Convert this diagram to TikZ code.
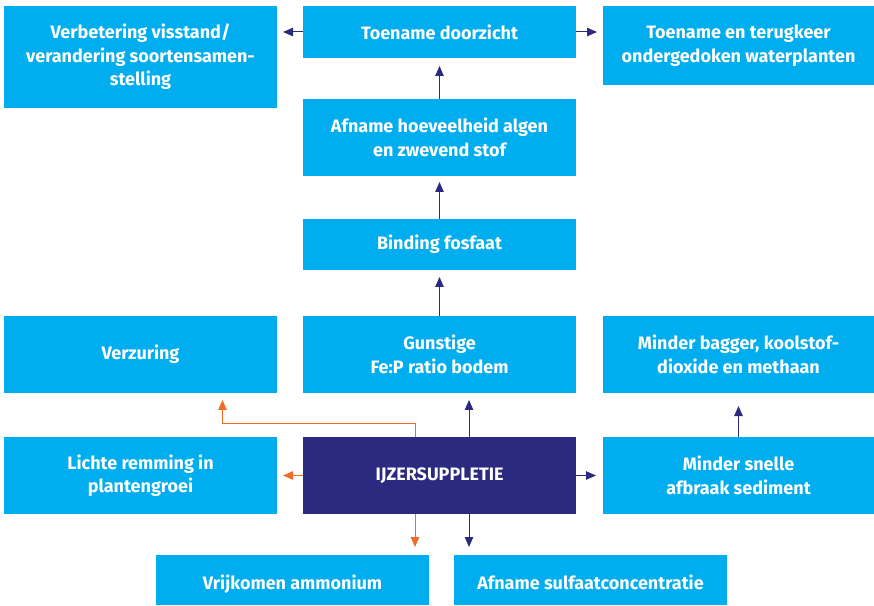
\documentclass[tikz,border=0pt]{standalone}
\usepackage{fontspec}
\setmainfont{Fira Sans}
\usetikzlibrary{arrows.meta}
\definecolor{boxcyan}{HTML}{00AEEF}
\definecolor{boxdark}{HTML}{2B2A80}
\definecolor{arroworange}{HTML}{F26D24}

\begin{document}
\begin{tikzpicture}[x=1pt,
y=1pt,
every node/.style={
rectangle,
align = center,
anchor=south west,
inner sep=0pt,
outer sep=0pt,
text=white,
font=\fontsize{18}{23.5}\selectfont\bfseries,
},
box/.style={
fill=boxcyan,
},
lowbox/.style={
fill=boxcyan,
text height=18pt,
text depth=0pt,
},
arrowb/.style={
draw=boxdark,
line width=1pt,
-{Triangle[length=10pt,width=8.5pt]},
},
arrowo/.style={
draw=arroworange,
line width=1pt,
-{Triangle[length=10pt,width=8.5pt]},
}]
\useasboundingbox (0,0) rectangle (874,605);

%top row
\node[box,minimum height=102,minimum width=273](verbetering)at(4,497){Verbetering visstand/\\verandering soortensamen-\\stelling};
\node[box,minimum height=52,minimum width=273](doorzicht)at(303,547){Toename doorzicht};
\node[box,minimum height=79,minimum width=271](waterplanten)at(603,520){Toename en terugkeer\\ondergedoken waterplanten};

%middle column
\node[box,minimum height=77,minimum width=273](algen)at(303,429){Afname hoeveelheid algen\\en zwevend stof};
\node[box,minimum height=51,minimum width=273](fosfaat)at(303,335){Binding fosfaat};

\node[box,minimum height=77,minimum width=273](verzuring)at(4,212){Verzuring};
\node[box,minimum height=77,minimum width=273](ratio)at(303,212){Gunstige\\Fe:P ratio bodem};
\node[box,minimum height=77,minimum width=271](bagger)at(603,212){Minder bagger, koolstof-\\dioxide en methaan};

%ijzersuppletie row
\node[box,minimum height=77,minimum width=273](remming)at(4,91){Lichte remming in\\plantengroei};
\node[fill=boxdark,minimum height=77,minimum width=273](ijzer)at(303,91){IJZERSUPPLETIE};
\node[box,minimum height=77,minimum width=271](afbraak)at(603,91){Minder snelle\\afbraak sediment};

%bottom row
\node[lowbox,minimum height=50,minimum width=273](ammonium)at(156,0){Vrijkomen ammonium};
\node[lowbox,minimum height=50,minimum width=273](sulfaat)at(454,0){Afname sulfaatconcentratie};

%arrows
\draw[arrowb,shorten >=7pt] ([xshift=29.5]ijzer.north) -- ([xshift=29.5]ratio.south);
\draw[arrowo,shorten >=7pt] ([xshift=-24.5]ijzer.north) -- ++(0,14) -| ([xshift=82]verzuring.south);
\draw[arrowo,shorten >=6pt] (ijzer.west) -- (remming.east);
\draw[arrowb,shorten >=7pt] (ijzer.east) -- (afbraak.west);
\draw[arrowo,shorten >=8pt] ([xshift=-24.5]ijzer.south) -- ([xshift=-24.5]ijzer.south |- ammonium.north);
\draw[arrowb,shorten >=8pt] ([xshift=29.5]ijzer.south) -- ([xshift=29.5]ijzer.south |- sulfaat.north);
\draw[arrowb,shorten >=13pt] (afbraak.north) -- (bagger.south);
\draw[arrowb,shorten >=7pt] (ratio.north) -- (fosfaat.south);
\draw[arrowb,shorten >=6pt] (fosfaat.north) -- (algen.south);
\draw[arrowb,shorten >=8pt] (algen.north) -- (doorzicht.south);
\draw[arrowb,shorten >=6pt] (doorzicht.west) -- (doorzicht.west -| verbetering.east);
\draw[arrowb,shorten >=6pt] (doorzicht.east) -- (doorzicht.east -| waterplanten.west);
\end{tikzpicture}
\end{document}
